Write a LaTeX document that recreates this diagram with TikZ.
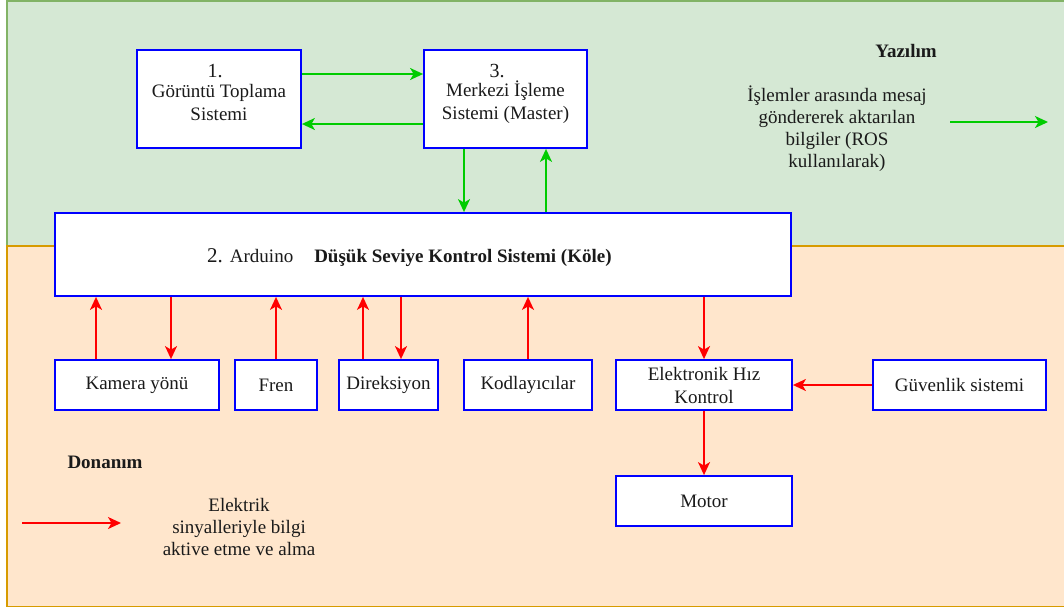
\documentclass[tikz,border=0pt]{standalone}
\usepackage{fontspec}
\setmainfont{Liberation Serif}
\usetikzlibrary{arrows.meta,calc}
\definecolor{swfill}{HTML}{D5E8D4}
\definecolor{swline}{HTML}{82B366}
\definecolor{hwfill}{HTML}{FFE6CC}
\definecolor{hwline}{HTML}{D79B00}
\definecolor{boxline}{HTML}{0000FF}
\definecolor{garr}{HTML}{00CC00}
\definecolor{rarr}{HTML}{FF0000}
\definecolor{txt}{HTML}{1A1A1A}
\tikzset{
  blk/.style={draw=boxline, line width=1.8pt, fill=white, rectangle, inner sep=0pt, align=center, text=txt,
    font=\fontsize{19}{23}\selectfont},
  garrow/.style={draw=garr, line width=1.8pt, -{Stealth[length=13pt,width=12pt,inset=3.5pt]}},
  rarrow/.style={draw=rarr, line width=1.8pt, -{Stealth[length=13pt,width=12pt,inset=3.5pt]}},
  lbl/.style={text=txt, align=center, inner sep=0pt, font=\fontsize{19}{22}\selectfont},
}
\begin{document}
\begin{tikzpicture}[x=1pt,y=-1pt]
\useasboundingbox (0,0) rectangle (1064,608);
\begin{scope}
\clip (0,0) rectangle (1064,608);
\draw[fill=swfill, draw=swline, line width=1.6pt] (7,1) rectangle (1080,246);
\draw[fill=hwfill, draw=hwline, line width=1.6pt] (7,246) rectangle (1080,606.5);
\end{scope}

% boxes
\node[blk, minimum width=164pt, minimum height=98pt] (gts) at (219,99) {};
\node[blk, minimum width=163pt, minimum height=98pt] (mis) at (505.5,99) {};
\node[lbl, font=\fontsize{19}{23}\selectfont] (gtst) at (219,102) {Görüntü Toplama\\Sistemi};
\node[lbl, font=\fontsize{19}{23}\selectfont] (mist) at (505.5,102) {Merkezi İşleme\\Sistemi (Master)};
\node[lbl, font=\fontsize{20}{22}\selectfont] (n1) at (215,71) {1.};
\node[lbl, font=\fontsize{20}{22}\selectfont] (n3) at (497,71) {3.};
\node[blk, minimum width=736pt, minimum height=83pt] (dss) at (423,254.5) {};
\node[lbl, anchor=base west] (ard) at (207,262) {{\fontsize{21}{23}\selectfont 2.}\hspace{7pt}Arduino\hspace{21pt}\textbf{Düşük Seviye Kontrol Sistemi (Köle)}};

\node[blk, minimum width=164pt, minimum height=50pt] (kam) at (137,385) {Kamera yönü};
\node[blk, minimum width=82pt, minimum height=50pt] (fren) at (276,385) {Fren};
\node[blk, minimum width=99pt, minimum height=50pt] (dir) at (388.5,385) {Direksiyon};
\node[blk, minimum width=128pt, minimum height=50pt] (kod) at (528,385) {Kodlayıcılar};
\node[blk, minimum width=176pt, minimum height=50pt] (esc) at (704,385) {Elektronik Hız\\Kontrol};
\node[blk, minimum width=173pt, minimum height=50pt] (guv) at (959.5,385) {Güvenlik sistemi};
\node[blk, minimum width=176pt, minimum height=50pt] (mot) at (704,501) {Motor};

% green connectors
\draw[garrow] ([yshift=25]gts.east) -- ([yshift=25]mis.west);
\draw[garrow] ([yshift=-25]mis.west) -- ([yshift=-25]gts.east);
\draw[garrow] ([xshift=-41.5]mis.south) -- ([xshift=-41.5]mis.south |- dss.north);
\draw[garrow] ([xshift=40.5]mis.south |- dss.north) -- ([xshift=40.5]mis.south);

% red connectors
\draw[rarrow] ([xshift=-41]kam.north) -- ([xshift=-41]kam.north |- dss.south);
\draw[rarrow] ([xshift=34]kam.north |- dss.south) -- ([xshift=34]kam.north);
\draw[rarrow] (fren.north) -- (fren.north |- dss.south);
\draw[rarrow] ([xshift=-25.5]dir.north) -- ([xshift=-25.5]dir.north |- dss.south);
\draw[rarrow] ([xshift=12.5]dir.north |- dss.south) -- ([xshift=12.5]dir.north);
\draw[rarrow] (kod.north) -- (kod.north |- dss.south);
\draw[rarrow] (esc.north |- dss.south) -- (esc.north);
\draw[rarrow] (guv.west) -- (esc.east);
\draw[rarrow] (esc.south) -- (mot.north);

% legend
\node[lbl, font=\fontsize{19}{22}\selectfont\bfseries] (yaz) at (906,51) {Yazılım};
\node[lbl] (ros) at (837,129) {İşlemler arasında mesaj\\göndererek aktarılan\\bilgiler (ROS\\kullanılarak)};
\coordinate (g1) at (950,122);
\coordinate (g2) at (1048,122);
\draw[garrow] (g1) -- (g2);

\node[lbl, font=\fontsize{19}{22}\selectfont\bfseries] (don) at (105,462) {Donanım};
\node[lbl] (ele) at (239,527) {Elektrik\\sinyalleriyle bilgi\\aktive etme ve alma};
\coordinate (r1) at (22,523);
\coordinate (r2) at (121,523);
\draw[rarrow] (r1) -- (r2);
\end{tikzpicture}
\end{document}
